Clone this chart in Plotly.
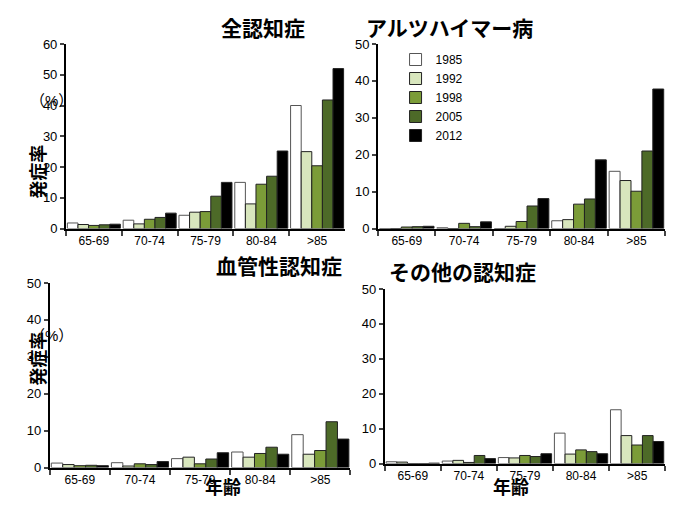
import plotly.graph_objects as go

AGES = ["65-69", "70-74", "75-79", "80-84", ">85"]
YEARS = ["1985", "1992", "1998", "2005", "2012"]
COLORS = ["#ffffff", "#d8e6bd", "#7b9c38", "#4d6a28", "#000000"]

# rows: year, columns: age group
ALL = [[1.8, 2.7, 4.3, 15.0, 40.0],
       [1.3, 1.5, 5.3, 8.0, 25.0],
       [1.0, 3.0, 5.5, 14.4, 20.4],
       [1.2, 3.6, 10.5, 17.0, 41.8],
       [1.4, 5.0, 15.0, 25.2, 52.0]]
AD = [[0.0, 0.2, 0.0, 2.1, 15.5],
      [0.0, 0.0, 0.6, 2.4, 13.0],
      [0.4, 1.4, 1.9, 6.6, 10.1],
      [0.5, 0.5, 6.1, 8.0, 21.0],
      [0.6, 1.8, 8.1, 18.6, 37.8]]
VAS = [[1.2, 1.3, 2.4, 4.2, 8.9],
       [0.8, 0.4, 2.8, 2.8, 3.6],
       [0.5, 1.0, 1.0, 3.8, 4.6],
       [0.6, 0.8, 2.3, 5.5, 12.4],
       [0.5, 1.6, 4.0, 3.6, 7.7]]
OTH = [[0.5, 0.7, 1.7, 8.7, 15.4],
       [0.4, 0.9, 1.6, 2.7, 8.0],
       [0.0, 0.3, 2.3, 3.9, 5.3],
       [0.0, 2.3, 2.0, 3.4, 8.0],
       [0.1, 1.4, 2.8, 2.8, 6.3]]

panels = [
    ("全認知症", ALL, [0.086, 0.500], [0.573, 0.942], 60, 10),
    ("アルツハイマー病", AD, [0.549, 0.975], [0.573, 0.942], 50, 10),
    ("血管性認知症", VAS, [0.062, 0.508], [0.095, 0.464], 50, 10),
    ("その他の認知症", OTH, [0.559, 0.975], [0.103, 0.452], 50, 10),
]

fig = go.Figure()
FONT = "Liberation Sans, Noto Sans CJK JP"
ann = []
for i, (title, data, xd, yd, ymax, dt) in enumerate(panels):
    n = "" if i == 0 else str(i + 1)
    for j, yr in enumerate(YEARS):
        fig.add_trace(go.Bar(
            x=AGES, y=data[j], name=yr, xaxis="x" + n, yaxis="y" + n,
            marker=dict(color=COLORS[j],
                        line=dict(color="#555555" if j == 0 else "#222222", width=1)),
            showlegend=(i == 1)))
    ax = dict(domain=xd, anchor="y" + n, type="category",
              showline=True, linecolor="black", linewidth=2,
              ticks="outside", tickson="boundaries", ticklen=5, tickwidth=1.5,
              tickfont=dict(size=12, color="black"), showgrid=False)
    ay = dict(domain=yd, anchor="x" + n, range=[0, ymax], dtick=dt,
              showline=True, linecolor="black", linewidth=2,
              ticks="outside", ticklen=4, tickwidth=1.5,
              tickfont=dict(size=13, color="black"), showgrid=False, zeroline=False)
    fig.update_layout(**{"xaxis" + n: ax, "yaxis" + n: ay})
    ann.append(dict(text="<b>%s</b>" % title, xref="paper", yref="paper",
                    x=(xd[0] + xd[1]) / 2 + 0.02,
                    y=yd[1] + 0.005, yanchor="bottom", showarrow=False,
                    font=dict(size=21, color="black")))

for yy in [0.85, 0.36]:
    ann.append(dict(text="（%）", xref="paper", yref="paper", x=0.03, y=yy,
                    showarrow=False, font=dict(size=15, color="black")))
    ann.append(dict(text="<b>発症率</b>", xref="paper", yref="paper",
                    x=0.027, y=yy - 0.105, textangle=-90,
                    showarrow=False, font=dict(size=18, color="black")))
for xx in [0.29, 0.776]:
    ann.append(dict(text="<b>年齢</b>", xref="paper", yref="paper", x=xx, y=0.03,
                    showarrow=False, font=dict(size=18, color="black")))

fig.update_layout(
    width=674, height=515, margin=dict(l=0, r=0, t=0, b=0),
    paper_bgcolor="white", plot_bgcolor="white",
    font=dict(family=FONT, color="black"),
    barmode="group", bargap=0.05, bargroupgap=0,
    annotations=ann,
    legend=dict(x=0.575, y=0.94, xanchor="left", yanchor="top",
                font=dict(size=12, color="black"), tracegroupgap=0,
                itemwidth=30, bgcolor="rgba(0,0,0,0)"),
)
fig.write_html("out.html")
